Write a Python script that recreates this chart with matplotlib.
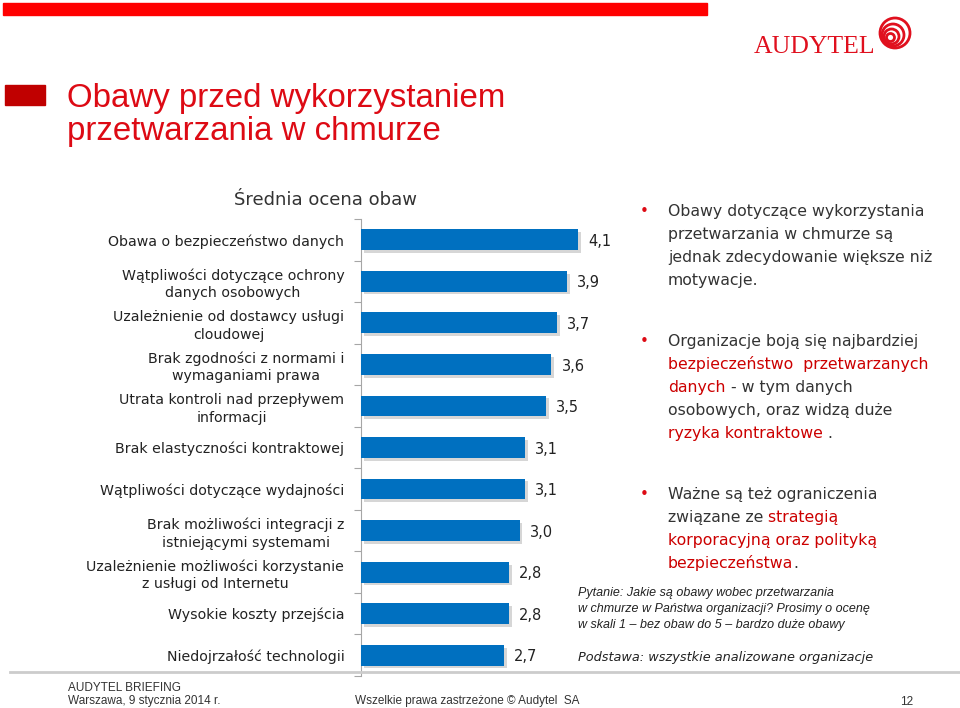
import matplotlib
matplotlib.use("Agg")
import matplotlib.pyplot as plt
import matplotlib.patheffects as pe
from matplotlib.patches import Rectangle, Circle

# data
categories = [
    "Obawa o bezpieczeństwo danych",
    "Wątpliwości dotyczące ochrony\ndanych osobowych",
    "Uzależnienie od dostawcy usługi\ncloudowej",
    "Brak zgodności z normami i\nwymaganiami prawa",
    "Utrata kontroli nad przepływem\ninformacji",
    "Brak elastyczności kontraktowej",
    "Wątpliwości dotyczące wydajności",
    "Brak możliwości integracji z\nistniejącymi systemami",
    "Uzależnienie możliwości korzystanie\nz usługi od Internetu",
    "Wysokie koszty przejścia",
    "Niedojrzałość technologii",
]
scores = [4.1, 3.9, 3.7, 3.6, 3.5, 3.1, 3.1, 3.0, 2.8, 2.8, 2.7]

chart_title = "Średnia ocena obaw"
slide_title = ["Obawy przed wykorzystaniem", "przetwarzania w chmurze"]

DARK = "#333333"
RED = "#CC0000"
bullets = [
    [[("Obawy dotyczące wykorzystania", DARK)],
     [("przetwarzania w chmurze są", DARK)],
     [("jednak zdecydowanie większe niż", DARK)],
     [("motywacje.", DARK)]],
    [[("Organizacje boją się najbardziej", DARK)],
     [("bezpieczeństwo  przetwarzanych", RED)],
     [("danych", RED), (" - w tym danych", DARK)],
     [("osobowych, oraz widzą duże", DARK)],
     [("ryzyka kontraktowe", RED), (" .", DARK)]],
    [[("Ważne są też ograniczenia", DARK)],
     [("związane ze", DARK), (" strategią", RED)],
     [("korporacyjną oraz polityką", RED)],
     [("bezpieczeństwa", RED), (".", DARK)]],
]
bullet_tops = [211, 341, 494]

question = ["Pytanie: Jakie są obawy wobec przetwarzania",
            "w chmurze w Państwa organizacji? Prosimy o ocenę",
            "w skali 1 – bez obaw do 5 – bardzo duże obawy"]
base = "Podstawa: wszystkie analizowane organizacje"

W, H = 960, 708
fig = plt.figure(figsize=(W / 100, H / 100), dpi=100)
fig.patch.set_facecolor("white")


def fx(x):
    return x / W


def fy(y):
    return 1 - y / H


# header decorations
fig.patches.append(Rectangle((fx(3), fy(15)), fx(704), 12 / H, color="#FF0000",
                             transform=fig.transFigure))
fig.patches.append(Rectangle((fx(5), fy(105)), fx(40), 20 / H, color="#C00000",
                             transform=fig.transFigure))
for i, line in enumerate(slide_title):
    fig.text(fx(67), fy(107 + 33 * i), line, fontsize=23.8, color="#DD0A14",
             family="Liberation Sans", ha="left", va="baseline")

# logo
fig.text(fx(754), fy(53), "AUDYTEL", fontsize=18.5, color="#E0101E",
         family="Liberation Serif", va="baseline")
logo_ax = fig.add_axes([fx(875), fy(53), fx(40), 40 / H])
logo_ax.set_xlim(0, 40)
logo_ax.set_ylim(0, 40)
logo_ax.set_aspect("equal")
logo_ax.axis("off")
for cx, cy, r in [(20, 20, 15), (18, 18, 11), (16.5, 16.5, 7.5), (15.5, 15.5, 4)]:
    logo_ax.add_patch(Circle((cx, cy), r, fill=False, ec="#E0101E", lw=2))

# bar chart
top, bottom = 219, 676
ax = fig.add_axes([fx(361), fy(bottom), fx(260), (bottom - top) / H])
y = list(range(len(categories)))
ax.barh(y, scores, height=0.5, color="#0070C0", zorder=3,
        path_effects=[pe.SimplePatchShadow(offset=(2, -2), shadow_rgbFace="#BBBBBB",
                                           alpha=0.6), pe.Normal()])
ax.set_xlim(0, 260 / 52.9)
ax.set_ylim(len(categories) - 0.5, -0.5)
for s in ["top", "right", "bottom"]:
    ax.spines[s].set_visible(False)
ax.spines["left"].set_color("#A6A6A6")
ax.set_xticks([])
ax.set_yticks([i - 0.5 for i in range(len(categories) + 1)])
ax.set_yticklabels([])
ax.tick_params(axis="y", which="major", length=5, color="#A6A6A6", direction="out")
ax.set_yticks(y, minor=True)
ax.set_yticklabels(categories, minor=True, fontsize=10.2, color="#222222",
                   multialignment="center", linespacing=1.3)
ax.tick_params(axis="y", which="minor", length=0, pad=12)
for yi, v in zip(y, scores):
    ax.text(v + 0.19, yi + 0.04, f"{v:.1f}".replace(".", ","), fontsize=10.5,
            color="#222222", va="center", ha="left")
ax.set_facecolor("none")

fig.text(fx(326), fy(200), chart_title, fontsize=13, color="#333333",
         ha="center", va="center")

# right-hand bullets
renderer = fig.canvas.get_renderer()
for para, ytop in zip(bullets, bullet_tops):
    fig.text(fx(640), fy(ytop + 5), "•", fontsize=11, color="#DD0A14",
             va="baseline", ha="left")
    for li, line in enumerate(para):
        x = 668
        yb = ytop + 5 + li * 23
        for seg, col in line:
            t = fig.text(fx(x), fy(yb), seg, fontsize=11.3, color=col,
                         va="baseline", ha="left")
            x += t.get_window_extent(renderer).width

for i, line in enumerate(question):
    fig.text(fx(578), fy(596 + 16 * i), line, fontsize=9, style="italic",
             family="Liberation Sans", color="#222222", va="baseline")
fig.text(fx(578), fy(661), base, fontsize=9.3, style="italic", color="#222222",
         va="baseline")

# footer
fig.add_artist(plt.Line2D([fx(10), fx(960)], [fy(672), fy(672)], color="#CCCCCC",
                          lw=2, transform=fig.transFigure))
fig.text(fx(68), fy(691), "AUDYTEL BRIEFING", fontsize=8.5, color="#333333",
         family="Liberation Sans", va="baseline")
fig.text(fx(68), fy(704), "Warszawa, 9 stycznia 2014 r.", fontsize=8.5,
         color="#333333", family="Liberation Sans", va="baseline")
fig.text(fx(355), fy(704), "Wszelkie prawa zastrzeżone © Audytel  SA", fontsize=8.5,
         color="#333333", family="Liberation Sans", va="baseline")
fig.text(fx(900), fy(705), "12", fontsize=8.5, color="#333333",
         family="Liberation Sans", va="baseline")

fig.savefig("out.png", dpi=100, facecolor="white")
